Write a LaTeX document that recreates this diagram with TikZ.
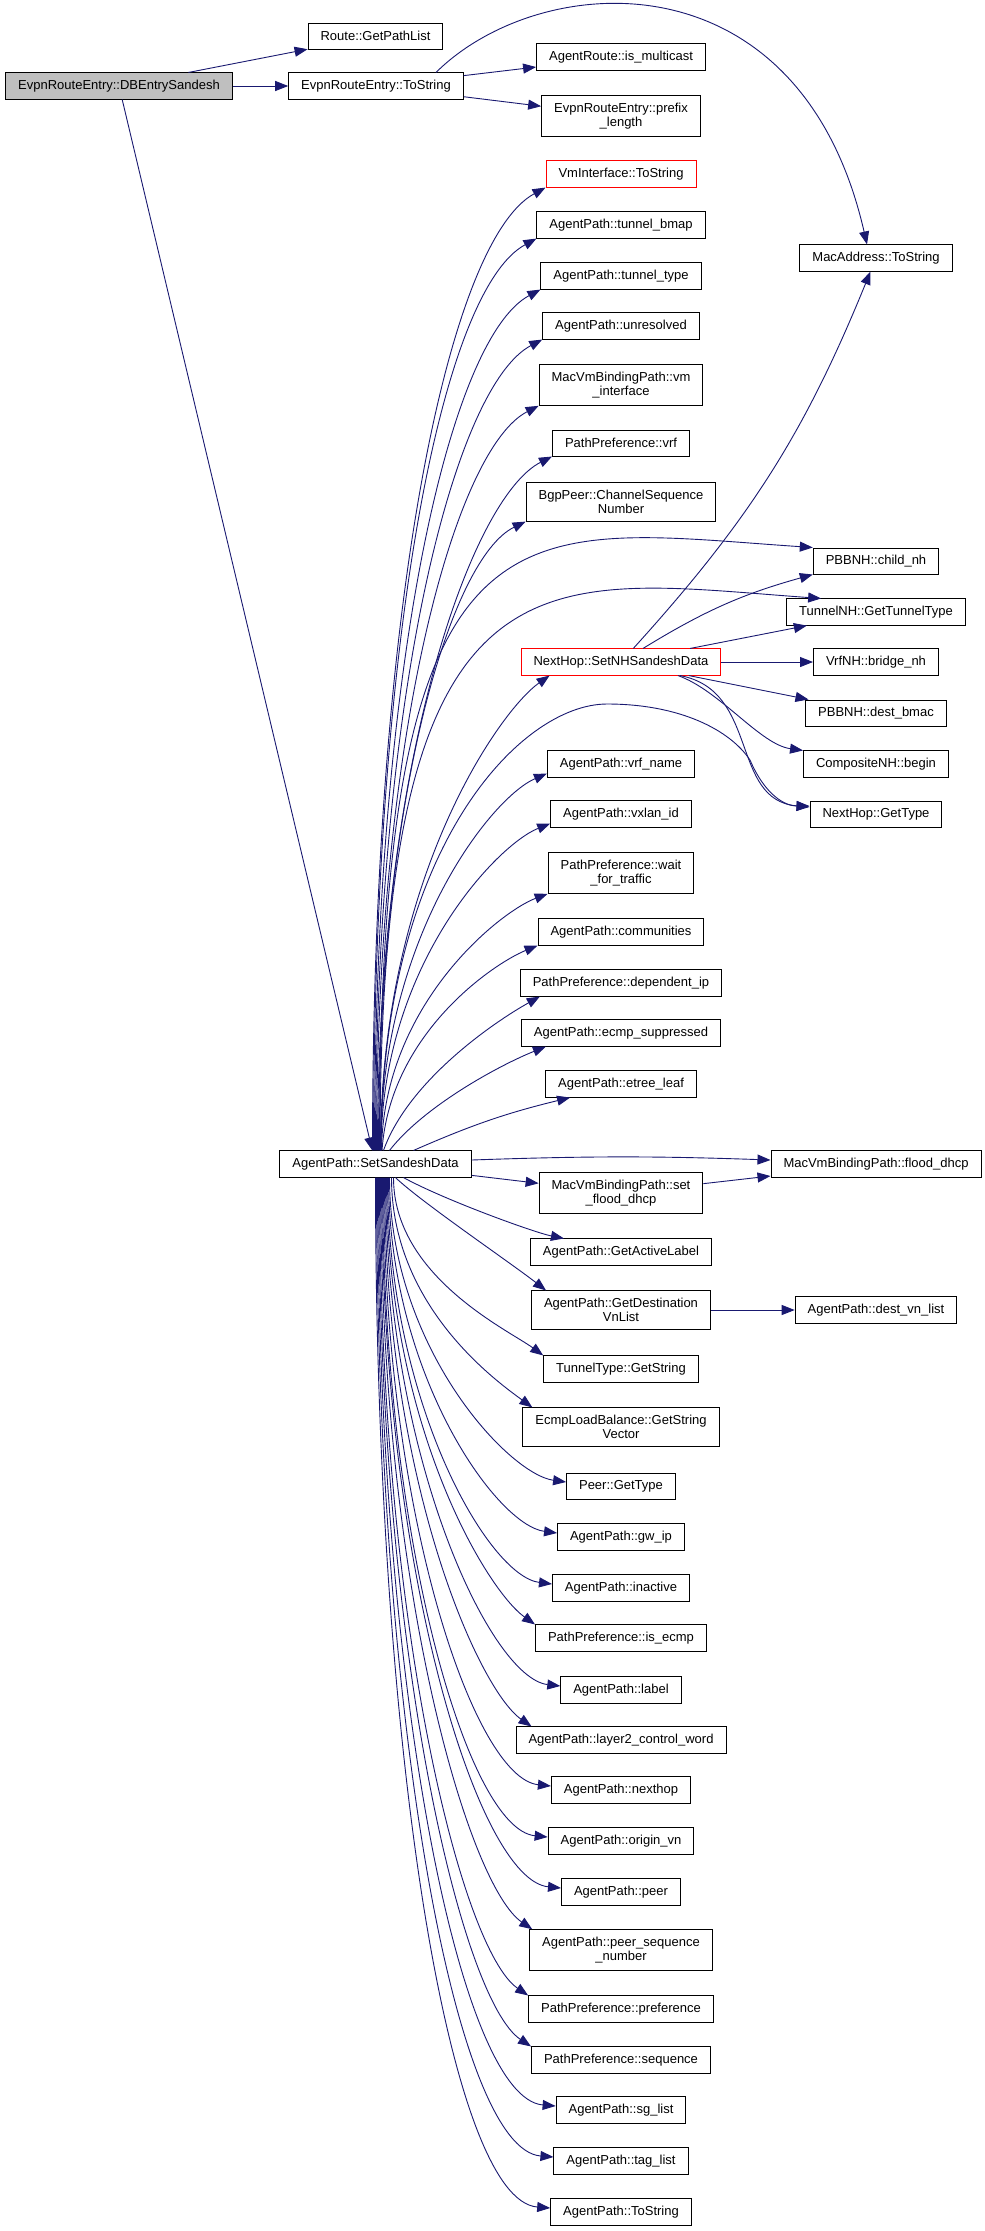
\documentclass[tikz,border=0pt]{standalone}
\usepackage{fontspec}
\setmainfont{Liberation Sans}
\usetikzlibrary{arrows.meta}
\definecolor{edgeblue}{HTML}{191970}
\definecolor{rootgray}{HTML}{BFBFBF}
\newcommand\fnsize{\fontsize{13}{14.6}\selectfont}
\begin{document}
\begin{tikzpicture}
	[x=1pt,y=1pt,fn/.style={draw,fill=white,line width=1pt,inner xsep=12.5pt,inner ysep=7pt,minimum height=26pt,align=center,font=\fnsize},
	call/.style={->,draw=edgeblue,line width=0.9pt},>={Triangle[length=13pt,width=10pt]}]
	\useasboundingbox(0,0)rectangle(985,-2231);
	% callers
	\node[fn,name=root,fill=rootgray]at(119,-86){EvpnRouteEntry::DBEntrySandesh};
	\node[fn,name=gpl]at(375.5,-36){Route::GetPathList};
	\node[fn,name=ets]at(376,-86){EvpnRouteEntry::ToString};
	\node[fn,name=ss]at(375.5,-1164){AgentPath::SetSandeshData};
	% middle column
	\node[fn,name=mc]at(621,-57){AgentRoute::is\_multicast};
	\node[fn,name=pl]at(621,-116){EvpnRouteEntry::prefix\\\_length};
	\node[fn,name=vmi,draw=red]at(621,-174){VmInterface::ToString};
	\node[fn,name=tb]at(621,-225){AgentPath::tunnel\_bmap};
	\node[fn,name=tt]at(621,-276){AgentPath::tunnel\_type};
	\node[fn,name=unr]at(621,-326){AgentPath::unresolved};
	\node[fn,name=vmif]at(621,-385){MacVmBindingPath::vm\\\_interface};
	\node[fn,name=vrf]at(621,-443){PathPreference::vrf};
	\node[fn,name=csn]at(621,-502){BgpPeer::ChannelSequence\\Number};
	\node[fn,name=nhs,draw=red]at(621,-662){NextHop::SetNHSandeshData};
	\node[fn,name=vrfn]at(621,-764){AgentPath::vrf\_name};
	\node[fn,name=vx]at(621,-814){AgentPath::vxlan\_id};
	\node[fn,name=wft]at(621,-873){PathPreference::wait\\\_for\_traffic};
	\node[fn,name=com]at(621,-932){AgentPath::communities};
	\node[fn,name=dip]at(621,-983){PathPreference::dependent\_ip};
	\node[fn,name=ecs]at(621,-1033){AgentPath::ecmp\_suppressed};
	\node[fn,name=etl]at(621,-1084){AgentPath::etree\_leaf};
	\node[fn,name=sfd]at(621,-1193){MacVmBindingPath::set\\\_flood\_dhcp};
	\node[fn,name=gal]at(621,-1252){AgentPath::GetActiveLabel};
	\node[fn,name=gdv]at(621,-1310){AgentPath::GetDestination\\VnList};
	\node[fn,name=tgs]at(621,-1369){TunnelType::GetString};
	\node[fn,name=elb]at(621,-1427){EcmpLoadBalance::GetString\\Vector};
	\node[fn,name=pgt]at(621,-1486){Peer::GetType};
	\node[fn,name=gw]at(621,-1537){AgentPath::gw\_ip};
	\node[fn,name=ina]at(621,-1588){AgentPath::inactive};
	\node[fn,name=ise]at(621,-1638){PathPreference::is\_ecmp};
	\node[fn,name=lbl]at(621,-1690){AgentPath::label};
	\node[fn,name=l2]at(621,-1740){AgentPath::layer2\_control\_word};
	\node[fn,name=nh]at(621,-1790){AgentPath::nexthop};
	\node[fn,name=ov]at(621,-1841){AgentPath::origin\_vn};
	\node[fn,name=peer]at(621,-1892){AgentPath::peer};
	\node[fn,name=psn]at(621,-1950){AgentPath::peer\_sequence\\\_number};
	\node[fn,name=pref]at(621,-2009){PathPreference::preference};
	\node[fn,name=seq]at(621,-2060){PathPreference::sequence};
	\node[fn,name=sg]at(621,-2110){AgentPath::sg\_list};
	\node[fn,name=tag]at(621,-2161){AgentPath::tag\_list};
	\node[fn,name=tos]at(621,-2212){AgentPath::ToString};
	% right column
	\node[fn,name=mac]at(876,-258){MacAddress::ToString};
	\node[fn,name=cnh]at(876,-561){PBBNH::child\_nh};
	\node[fn,name=gtt]at(876,-612){TunnelNH::GetTunnelType};
	\node[fn,name=bnh]at(876,-662){VrfNH::bridge\_nh};
	\node[fn,name=dbm]at(876,-713){PBBNH::dest\_bmac};
	\node[fn,name=cmp]at(876,-764){CompositeNH::begin};
	\node[fn,name=ngt]at(876,-814){NextHop::GetType};
	\node[fn,name=fd]at(876,-1164){MacVmBindingPath::flood\_dhcp};
	\node[fn,name=dvl]at(876,-1310){AgentPath::dest\_vn\_list};
	% calls of the root and of ToString
	\draw[call](root)--(gpl);
	\draw[call](root)--(ets);
	\draw[call](root)--(ss);
	\draw[call](ets)--(mc);
	\draw[call](ets)--(pl);
	\draw[call]([xshift=60]ets.north)..controls+(104,103)and+(-67,293)..([xshift=-9]mac.north);
	% SetSandeshData, upwards
	\draw[call]([xshift=-3]ss.north)..controls+(0,549)and+(-97,-53)..(vmi.south west);
	\draw[call]([xshift=-2]ss.north)..controls+(0,520)and+(-94,-51)..(tb.south west);
	\draw[call]([xshift=-1]ss.north)..controls+(0,491)and+(-90,-48)..(tt.south west);
	\draw[call](ss.north)..controls+(0,463)and+(-87,-46)..(unr.south west);
	\draw[call]([xshift=1]ss.north)..controls+(0,425)and+(-82,-42)..(vmif.south west);
	\draw[call]([xshift=2]ss.north)..controls+(0,396)and+(-79,-40)..(vrf.south west);
	\draw[call]([xshift=3]ss.north)..controls+(0,358)and+(-74,-36)..(csn.south west);
	\draw[call]([xshift=4]ss.north)..controls+(0,671)and+(-298,20)..(cnh.north west);
	\draw[call]([xshift=4.5]ss.north)..controls+(0,620)and+(-280,20)..([xshift=35]gtt.north west);
	\draw[call]([xshift=5]ss.north)..controls+(0,271)and+(-50,-35)..([xshift=29]nhs.south west);
	\draw[call]([xshift=5.5]ss.north)..controls+(0,301)and(520,-704)..(607,-704)
		..controls(680,-704)and(730,-730)..(750,-760)..controls(765,-795)and(785,-806)..([yshift=8]ngt.west);
	\draw[call]([xshift=5]ss.north)..controls+(0,213)and+(-56,-24)..([yshift=4]vrfn.south west);
	\draw[call]([xshift=5.5]ss.north)..controls+(0,185)and+(-53,-21)..([yshift=4]vx.south west);
	\draw[call]([xshift=6]ss.north)..controls+(2,146)and+(-48,-18)..(wft.south west);
	\draw[call]([xshift=6.5]ss.north)..controls+(8,117)and+(-44,-18)..(com.south west);
	\draw[call]([xshift=8]ss.north)..controls+(25,70)and+(-45,-25)..([xshift=20]dip.south west);
	\draw[call]([xshift=14]ss.north)..controls+(35,45)and+(-45,-18)..([xshift=25]ecs.south west);
	\draw[call]([xshift=38]ss.north)to[bend left=5]([xshift=25]etl.south west);
	% SetSandeshData, sideways and downwards
	\draw[call]([yshift=4]ss.east)to[bend left=2]([yshift=4]fd.west);
	\draw[call](ss)--(sfd);
	\draw[call](sfd)--(fd);
	\draw[call]([xshift=28]ss.south)..controls+(40,-22)and+(-30,6)..([xshift=34]gal.north west);
	\draw[call]([xshift=20]ss.south)..controls+(25,-24)and+(-36,28)..([xshift=15]gdv.north west);
	\draw[call](gdv)--(dvl);
	\draw[call]([xshift=18]ss.south)..controls+(0,-99)and+(-34,25)..(tgs.north west);
	\draw[call]([xshift=16]ss.south)..controls+(0,-128)and+(-37,27)..([xshift=10]elb.north west);
	\draw[call]([xshift=14]ss.south)..controls+(0,-169)and+(-58,8)..([yshift=4]pgt.west);
	\draw[call]([xshift=13]ss.south)..controls+(0,-196)and+(-61,8)..([yshift=4]gw.west);
	\draw[call]([xshift=12]ss.south)..controls+(0,-224)and+(-64,8)..([yshift=4]ina.west);
	\draw[call]([xshift=11]ss.south)..controls+(0,-248)and+(-48,34)..(ise.north west);
	\draw[call]([xshift=10]ss.south)..controls+(0,-279)and+(-70,8)..([yshift=4]lbl.west);
	\draw[call]([xshift=9]ss.south)..controls+(0,-303)and+(-53,37)..([xshift=16]l2.north west);
	\draw[call]([xshift=8]ss.south)..controls+(0,-335)and+(-77,8)..([yshift=4]nh.west);
	\draw[call]([xshift=7]ss.south)..controls+(0,-362)and+(-80,8)..([yshift=4]ov.west);
	\draw[call]([xshift=6]ss.south)..controls+(0,-392)and+(-83,8)..([yshift=4]peer.west);
	\draw[call]([xshift=5]ss.south)..controls+(0,-415)and+(-63,43)..([xshift=3]psn.north west);
	\draw[call]([xshift=4]ss.south)..controls+(0,-451)and+(-66,45)..(pref.north west);
	\draw[call]([xshift=3]ss.south)..controls+(0,-479)and+(-69,46)..(seq.north west);
	\draw[call]([xshift=2]ss.south)..controls+(0,-512)and+(-96,8)..([yshift=4]sg.west);
	\draw[call]([xshift=1]ss.south)..controls+(0,-540)and+(-99,8)..([yshift=4]tag.west);
	\draw[call](ss.south)..controls+(0,-567)and+(-102,8)..([yshift=4]tos.west);
	% SetNHSandeshData
	\draw[call](nhs)to[bend right=10](mac);
	\draw[call]([xshift=22]nhs.north)to[bend left=8](cnh.south west);
	\draw[call](nhs)--(gtt);
	\draw[call](nhs)--(bnh);
	\draw[call](nhs)--(dbm);
	\draw[call]([xshift=57]nhs.south)..controls+(42,-15)and+(-43,6)..(cmp.north west);
	\draw[call]([xshift=59]nhs.south)..controls+(80,-15)and+(-80,7)..([yshift=7]ngt.west);
\end{tikzpicture}
\end{document}
